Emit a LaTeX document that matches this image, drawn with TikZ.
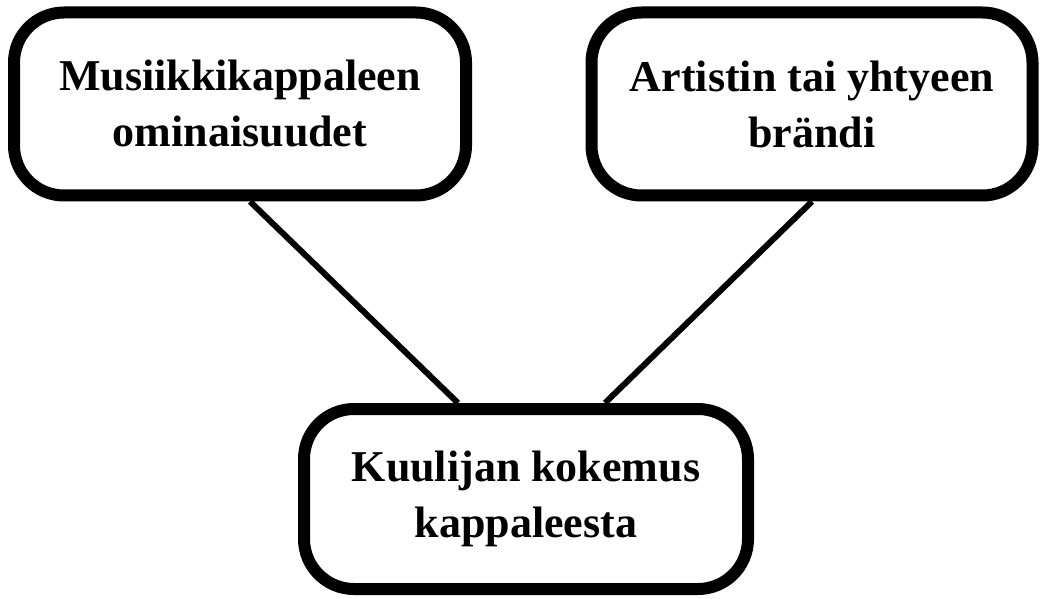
\documentclass[tikz,border=0pt]{standalone}
\usepackage{fontspec}
\setmainfont{Liberation Serif}
\begin{document}
\begin{tikzpicture}[x=1pt,y=-1pt,
  laatikko/.style={draw,line width=12pt,rounded corners=50pt,align=center,
    font=\fontsize{44}{56}\selectfont\bfseries,inner sep=0pt}]
\useasboundingbox (0,0) rectangle (1045,599);

\node[laatikko,minimum width=452pt,minimum height=183pt] (musiikki) at (240,104) {Musiikkikappaleen\\ominaisuudet};
\node[laatikko,minimum width=441pt,minimum height=183pt] (artisti) at (812,104) {Artistin tai yhtyeen\\brändi};
\node[laatikko,minimum width=444pt,minimum height=180pt] (kokemus) at (526,499) {Kuulijan kokemus\\kappaleesta};

\draw[line width=6pt] ([xshift=10pt]musiikki.south) -- ([xshift=-68pt]kokemus.north);
\draw[line width=6pt] (artisti.south) -- ([xshift=79pt]kokemus.north);
\end{tikzpicture}
\end{document}
